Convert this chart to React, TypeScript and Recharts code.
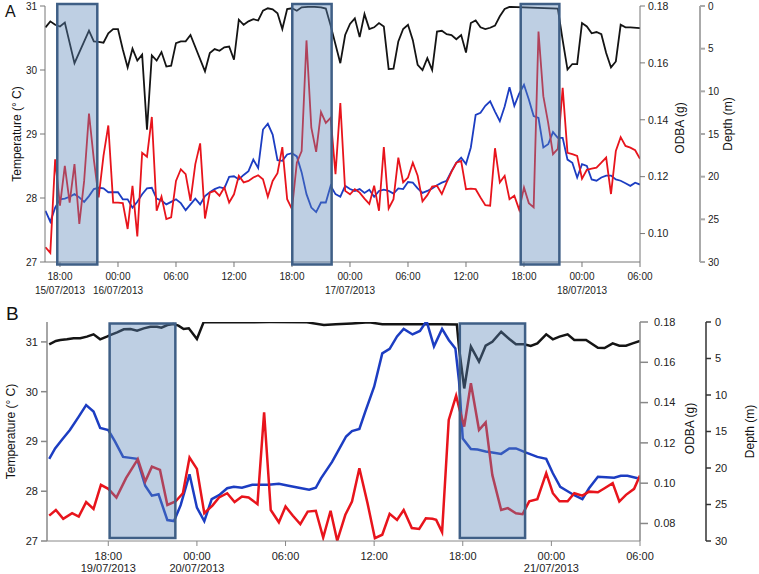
import React from "react";
import { ComposedChart, Line, XAxis, YAxis, ReferenceArea } from "recharts";

// ---------- Panel A (hours from 00:00 15/07/2013) ----------
const depthA: [number, number][] = [
  [16.5,2.5],[17,1.8],[17.5,2.2],[18,2.4],[18.5,1.95],[19.5,6.7],[21,2.9],[21.5,4.15],[22,4.2],[22.5,4.3],
  [23,3.2],[23.5,2.7],[24,2.7],[24.5,5.1],[25,7.2],[25.5,5.0],[26,6.4],[26.5,5.7],[27,14.5],[27.5,5.8],
  [28,6.4],[28.5,5.4],[29,7.1],[29.5,7.0],[30,4.35],[30.5,4.15],[31,4.15],[31.5,3.4],[33,7.65],[33.5,5.5],
  [34,5.05],[34.5,5.25],[35,4.85],[35.5,4.75],[36,6.3],[36.5,1.6],[37,2.2],[37.5,1.8],[38,1.55],[38.5,1.7],
  [39,0.55],[39.5,0.27],[40,0.4],[40.5,0.85],[41,2.7],[41.5,0.35],[42,0.27],[42.5,0.55],[43,0.15],[44,0.08],
  [45,0.15],[45.5,0.3],[46,2.3],[47,6.7],[47.5,3.4],[48,2.1],[48.5,1.45],[49,3.65],[49.5,0.95],[50,2.7],
  [50.5,2.5],[51,2.0],[51.5,2.4],[52,7.4],[52.5,7.35],[53,4.15],[53.5,2.7],[54,2.2],[54.5,4.0],[55,6.9],
  [55.5,7.5],[56,6.1],[56.5,7.5],[57,3.0],[57.5,2.9],[58,3.3],[58.5,3.4],[59,3.9],[59.5,3.4],[60,5.45],
  [60.5,2.0],[61,1.7],[61.5,2.5],[62,2.7],[62.5,2.55],[63,2.3],[63.5,1.2],[64,0.35],[64.5,0.1],[69.5,0.3],
  [70,4.0],[70.5,7.45],[71,6.8],[71.5,6.8],[72,2.0],[72.5,2.4],[73,3.2],[73.5,3.05],[74,3.3],[74.5,5.5],
  [75,7.2],[75.5,6.5],[76,2.2],[76.5,2.5],[77,2.5],[78,2.6],
];
const tempA: [number, number][] = [
  [16.5,27.8],[17,27.63],[17.5,27.85],[18,27.98],[18.5,27.99],[19,28.02],[19.5,28.06],[20,28.01],[20.5,27.94],[21,28.03],
  [21.5,28.14],[22,28.16],[22.5,28.15],[23,28.09],[23.5,28.09],[24,28.09],[24.5,27.98],[25,27.98],[25.5,27.85],[26,27.94],
  [26.5,28.06],[27,28.15],[27.5,28.16],[28,27.99],[28.5,27.96],[29,27.9],[29.5,27.94],[30,27.98],[30.5,27.92],[31,27.81],
  [31.5,27.9],[32,27.99],[32.5,27.9],[33,28.03],[33.5,28.09],[34,28.14],[34.5,28.17],[35,28.15],[35.5,28.33],[36,28.34],
  [36.5,28.29],[37,28.36],[37.5,28.42],[38,28.6],[38.5,28.47],[39,29.07],[39.5,29.16],[40,28.99],[40.5,28.59],[41,28.58],
  [41.5,28.68],[42,28.7],[42.5,28.65],[43,28.4],[43.5,28.06],[44,27.85],[44.5,27.78],[45,27.93],[45.5,27.93],[46,28.19],
  [46.5,28.06],[47,28.02],[47.5,28.19],[48,28.14],[48.5,28.11],[49,28.14],[49.5,28.08],[50,28.13],[50.5,28.02],[51,28.11],
  [51.5,28.13],[52,28.11],[52.5,28.07],[53,28.15],[53.5,28.14],[54,28.25],[54.5,28.24],[55,28.15],[55.5,28.08],[56,28.11],
  [56.5,28.15],[57,28.2],[57.5,28.24],[58,28.27],[58.5,28.42],[59,28.55],[59.5,28.63],[60,28.53],[60.5,28.79],[61,29.3],
  [61.5,29.33],[62,29.44],[62.5,29.51],[63,29.35],[63.5,29.2],[64,29.43],[64.5,29.73],[65,29.44],[65.5,29.63],[66,29.77],
  [66.5,29.54],[67,29.28],[67.5,29.25],[68,28.79],[68.5,28.84],[69,29.03],[69.5,28.94],[70,28.94],[70.5,28.6],[71,28.55],
  [71.5,28.32],[72,28.53],[72.5,28.5],[73,28.29],[73.5,28.27],[74,28.32],[74.5,28.35],[75,28.35],[75.5,28.29],[76,28.27],
  [76.5,28.23],[77,28.19],[77.5,28.24],[78,28.21],
];
const odbaA: [number, number][] = [
  [16.5,0.0952],[17,0.0932],[17.5,0.1261],[18,0.1098],[18.5,0.1238],[19,0.1109],[19.5,0.1244],[20,0.1034],[20.5,0.1185],[21,0.1422],
  [21.5,0.1261],[22,0.1127],[22.5,0.1273],[23,0.138],[23.5,0.1109],[24,0.1109],[24.5,0.1107],[25,0.1016],[25.5,0.1168],[26,0.099],
  [26.5,0.1284],[27,0.127],[27.5,0.141],[28,0.108],[28.5,0.113],[29,0.1051],[29.5,0.1057],[30,0.1185],[30.5,0.1226],[31,0.1209],
  [31.5,0.1115],[32,0.1244],[32.5,0.1317],[33,0.1053],[33.5,0.1144],[34,0.115],[34.5,0.1133],[35,0.1162],[35.5,0.1109],[36,0.1138],
  [36.5,0.1203],[37,0.118],[37.5,0.1185],[38,0.1197],[38.5,0.1205],[39,0.1191],[39.5,0.1129],[40,0.1185],[40.5,0.1212],[41,0.1304],
  [41.5,0.1121],[42,0.1086],[42.5,0.1249],[43,0.129],[43.5,0.1679],[44,0.1372],[44.5,0.1287],[45,0.1427],[45.5,0.1389],[46,0.1407],
  [46.5,0.1209],[47,0.1459],[47.5,0.115],[48,0.1138],[48.5,0.1156],[49,0.1144],[49.5,0.1123],[50,0.1104],[50.5,0.1168],[51,0.108],
  [51.5,0.1304],[52,0.1088],[52.5,0.1121],[53,0.1267],[53.5,0.118],[54,0.1197],[54.5,0.1249],[55,0.1203],[55.5,0.1113],[56,0.1135],
  [56.5,0.1165],[57,0.1168],[57.5,0.1139],[58,0.118],[58.5,0.1217],[59,0.1249],[59.5,0.1255],[60,0.1156],[60.5,0.1158],[61,0.1156],
  [61.5,0.1127],[62,0.11],[62.5,0.1098],[63,0.13],[63.5,0.118],[64,0.1203],[64.5,0.1121],[65,0.1133],[65.5,0.1084],[66,0.1162],
  [66.5,0.1107],[67,0.1092],[67.5,0.171],[68,0.1483],[68.5,0.1389],[69,0.1279],[69.5,0.1298],[70,0.1512],[70.5,0.1284],[71,0.1279],
  [71.5,0.1273],[72,0.1193],[72.5,0.1224],[73,0.1228],[73.5,0.1232],[74,0.1249],[74.5,0.1267],[75,0.1139],[75.5,0.129],[76,0.1339],
  [76.5,0.1308],[77,0.1302],[77.5,0.1293],[78,0.1263],
];
const shadeA: [number, number][] = [[17.72, 21.86], [42.03, 46.1], [65.66, 69.66]];
const ticksA = [18, 24, 30, 36, 42, 48, 54, 60, 66, 72, 78];
const tickTimesA = ["18:00", "00:00", "06:00", "12:00", "18:00", "00:00", "06:00", "12:00", "18:00", "00:00", "06:00"];
const tickDatesA = ["15/07/2013", "16/07/2013", "", "", "", "17/07/2013", "", "", "", "18/07/2013", ""];

// ---------- Panel B (hours from 00:00 19/07/2013) ----------
const depthB: [number, number][] = [
  [14.0,3.06],[14.45,2.6],[14.75,2.47],[15.2,2.37],[15.65,2.23],[16.1,2.23],[16.55,2.0],[17.0,1.69],[17.45,2.37],[17.9,2.0],
  [18.25,1.69],[18.6,1.41],[19.05,1.0],[19.5,0.96],[19.95,1.19],[20.4,0.87],[20.85,0.64],[21.3,0.64],[21.6,0.78],[22.0,0.41],
  [22.4,0.27],[22.75,0.5],[23.1,0.96],[23.45,0.87],[24.0,2.33],[24.45,0.05],[24.9,0.0],[26.6,0.05],[28.9,0.0],[31.45,0.05],
  [32.6,0.4],[33.4,0.3],[34.5,0.2],[35.65,0.05],[36.55,0.3],[37.9,0.3],[39.25,0.3],[40.5,0.3],[41.6,0.35],[41.75,3.6],
  [42.1,9.1],[42.55,3.38],[43.1,5.44],[43.55,3.25],[44.0,2.7],[44.6,1.33],[45.15,2.33],[45.6,3.06],[46.15,3.06],[46.6,3.29],
  [47.05,2.92],[47.65,1.69],[48.1,2.37],[48.55,2.0],[49.1,1.69],[49.55,2.47],[50.35,2.47],[51.15,3.52],[51.6,3.56],[52.15,2.92],
  [52.6,3.25],[53.05,3.25],[53.5,2.92],[54.0,2.6],
];
const tempB: [number, number][] = [
  [14.0,28.65],[14.4,28.86],[14.85,29.03],[15.4,29.23],[16.0,29.5],[16.5,29.73],[17.0,29.6],[17.45,29.27],[18.0,29.23],[18.45,29.0],
  [19.0,28.69],[19.5,28.67],[19.95,28.65],[20.5,28.11],[20.95,27.91],[21.4,27.94],[22.0,27.42],[22.45,27.4],[22.9,27.72],[23.5,28.34],
  [24.0,27.67],[24.5,27.4],[25.0,27.84],[25.5,27.92],[26.05,28.06],[26.5,28.09],[27.05,28.07],[27.75,28.13],[28.85,28.13],[29.55,28.15],
  [30.2,28.11],[30.9,28.07],[31.6,28.03],[32.05,28.07],[32.4,28.26],[33.15,28.59],[33.6,28.83],[34.1,29.1],[34.5,29.21],[35.0,29.25],
  [35.4,29.6],[36.0,30.1],[36.55,30.77],[37.05,30.86],[37.55,31.11],[38.0,31.26],[38.6,31.15],[39.1,31.22],[39.55,31.42],[40.05,30.91],
  [40.6,31.26],[41.05,31.04],[41.5,30.87],[41.75,30.2],[42.0,29.06],[42.55,28.85],[43.0,28.84],[43.55,28.8],[44.0,28.78],[44.6,28.75],
  [45.15,28.86],[45.6,28.86],[46.25,28.78],[47.05,28.69],[47.65,28.65],[48.1,28.36],[48.6,28.09],[49.1,28.0],[49.55,27.92],[50.1,27.84],
  [50.55,28.06],[51.15,28.29],[51.7,28.28],[52.25,28.27],[52.7,28.31],[53.15,28.31],[53.85,28.26],
];
const odbaB: [number, number][] = [
  [14.0,0.0839],[14.45,0.0867],[14.95,0.0823],[15.55,0.0851],[16.0,0.0834],[16.5,0.0906],[17.0,0.0872],[17.5,0.0992],[18.0,0.0972],[18.55,0.0929],
  [19.2,0.1025],[20.0,0.1119],[20.5,0.1008],[20.95,0.1082],[21.5,0.1066],[22.0,0.0892],[22.55,0.0909],[23.05,0.095],[23.5,0.1127],[24.0,0.1071],
  [24.5,0.0851],[25.05,0.0889],[25.5,0.0929],[26.05,0.095],[26.55,0.0906],[27.05,0.0934],[27.5,0.0929],[28.1,0.0896],[28.55,0.1352],[29.0,0.0867],
  [29.55,0.0806],[30.0,0.0884],[30.5,0.0838],[31.0,0.0797],[31.5,0.0859],[32.05,0.0863],[32.55,0.073],[33.05,0.0863],[33.5,0.0714],[34.05,0.0843],
  [34.5,0.0909],[35.0,0.1074],[35.55,0.0901],[36.05,0.0727],[36.55,0.0744],[37.05,0.0848],[37.55,0.0818],[38.0,0.0867],[38.55,0.0777],[39.05,0.0773],
  [39.5,0.0826],[39.95,0.0823],[40.2,0.0818],[40.6,0.0757],[41.05,0.1314],[41.55,0.1434],[41.75,0.1375],[42.1,0.1281],[42.55,0.1496],[43.1,0.1264],
  [43.55,0.1302],[44.0,0.1041],[44.6,0.0867],[45.05,0.0876],[45.6,0.0851],[46.05,0.0846],[46.5,0.091],[47.05,0.0921],[47.65,0.105],[48.1,0.095],
  [48.55,0.091],[49.1,0.091],[49.55,0.095],[50.1,0.0938],[50.55,0.0958],[51.15,0.0955],[51.6,0.0975],[52.15,0.1],[52.6,0.0909],[53.05,0.0942],
  [53.6,0.0972],[54.0,0.1038],
];
const shadeB: [number, number][] = [[18.09, 22.54], [41.8, 46.22]];
const ticksB = [18, 24, 30, 36, 42, 48, 54];
const tickTimesB = ["18:00", "00:00", "06:00", "12:00", "18:00", "00:00", "06:00"];
const tickDatesB = ["19/07/2013", "20/07/2013", "", "", "", "21/07/2013", ""];

const tempTicks = [27, 28, 29, 30, 31];
const odbaTicksA = [0.1, 0.12, 0.14, 0.16, 0.18];
const odbaTicksB = [0.08, 0.1, 0.12, 0.14, 0.16, 0.18];
const depthTicks = [0, 5, 10, 15, 20, 25, 30];

const toRows = (arr: [number, number][]) => arr.map(([t, v]) => ({ t, v }));

const TICK_FONT = "'Liberation Sans', Arial, sans-serif";
const LABEL_FONT = "'Liberation Sans', Arial, sans-serif";

const BLACK = "#141414";
const BLUE = "#1c3dc2";
const RED = "#e8141c";

// axis ids: the right axes are stacked outward in id order
const ODBA_ID = "r1_odba";
const DEPTH_ID = "r2_depth";

function makeXTick(ticks: number[], times: string[], dates: string[], fs: number, gap1: number, gap2: number) {
  return (props: any) => {
    const { x, y, payload } = props;
    const i = ticks.indexOf(payload.value);
    if (i < 0) return null;
    return (
      <g>
        <text x={x} y={y + gap1} textAnchor="middle" fontSize={fs} fontFamily={TICK_FONT} fill="#222">
          <tspan x={x}>{times[i]}</tspan>
          {dates[i] ? <tspan x={x} dy={gap2 - gap1}>{dates[i]}</tspan> : null}
        </text>
      </g>
    );
  };
}

function PanelA() {
  return (
    <ComposedChart width={759} height={300} margin={{ top: 6, right: 0, bottom: 0, left: 0 }}>
      <XAxis
        xAxisId="x" dataKey="t" type="number" domain={[16.45, 78]} allowDataOverflow ticks={ticksA} interval={0}
        height={38} stroke="#777" tickSize={5} tickMargin={2}
        tick={makeXTick(ticksA, tickTimesA, tickDatesA, 10, 11, 25)}
      />
      <YAxis
        yAxisId="temp" orientation="left" width={45} domain={[27, 31]} ticks={tempTicks} allowDataOverflow
        stroke="#777" tickSize={5} tickMargin={3} tick={{ fontSize: 10, fill: "#222", fontFamily: TICK_FONT }}
        label={{ value: "Temperature (°  C)", angle: -90, position: "center", dx: -6, fontSize: 12, fill: "#111", fontFamily: LABEL_FONT }}
      />
      <YAxis
        yAxisId={ODBA_ID} orientation="right" width={60} domain={[0.09, 0.18]} ticks={odbaTicksA} allowDataOverflow
        stroke="#777" tickSize={5} tickMargin={3} tickFormatter={(v: number) => v.toFixed(2)}
        tick={{ fontSize: 10.5, fill: "#222", fontFamily: TICK_FONT }}
        label={{ value: "ODBA (g)", angle: -90, position: "center", dx: 10, dy: -6, fontSize: 12, fill: "#111", fontFamily: LABEL_FONT }}
      />
      <YAxis
        yAxisId={DEPTH_ID} orientation="right" width={59} domain={[0, 30]} reversed ticks={depthTicks} allowDataOverflow
        stroke="#aaa" strokeWidth={2} tickSize={5} tickMargin={3}
        tick={{ fontSize: 10, fill: "#222", fontFamily: TICK_FONT }}
        label={{ value: "Depth (m)", angle: -90, position: "center", dx: -2, dy: -10, fontSize: 12, fill: "#111", fontFamily: LABEL_FONT }}
      />
      <Line xAxisId="x" yAxisId={DEPTH_ID} data={toRows(depthA)} dataKey="v" stroke={BLACK} strokeWidth={1.8} dot={false} isAnimationActive={false} />
      <Line xAxisId="x" yAxisId="temp" data={toRows(tempA)} dataKey="v" stroke={BLUE} strokeWidth={1.8} dot={false} isAnimationActive={false} />
      <Line xAxisId="x" yAxisId={ODBA_ID} data={toRows(odbaA)} dataKey="v" stroke={RED} strokeWidth={1.8} dot={false} isAnimationActive={false} />
      {shadeA.map(([a, b], i) => (
        <ReferenceArea
          key={i} xAxisId="x" yAxisId="temp" x1={a} x2={b} y1={26.96} y2={31.03} ifOverflow="visible"
          fill="#5d87b9" fillOpacity={0.4} stroke="#3f5f86" strokeWidth={2.5} strokeOpacity={1}
          {...({ zIndex: 800 } as any)}
        />
      ))}
    </ComposedChart>
  );
}

function PanelB() {
  return (
    <ComposedChart width={759} height={276} margin={{ top: 24, right: 0, bottom: 0, left: 0 }}>
      <XAxis
        xAxisId="x" dataKey="t" type="number" domain={[13.85, 54]} allowDataOverflow ticks={ticksB} interval={0}
        height={33} stroke="#888" tickSize={5} tickMargin={2}
        tick={makeXTick(ticksB, tickTimesB, tickDatesB, 11, 12, 23.5)}
      />
      <YAxis
        yAxisId="temp" orientation="left" width={47} domain={[27, 31.4]} ticks={tempTicks} allowDataOverflow
        stroke="#888" strokeWidth={1.5} tickSize={6} tickMargin={3} tick={{ fontSize: 11, fill: "#222", fontFamily: TICK_FONT }}
        label={{ value: "Temperature (°  C)", angle: -90, position: "center", dx: -13, fontSize: 12, fill: "#111", fontFamily: LABEL_FONT }}
      />
      <YAxis
        yAxisId={ODBA_ID} orientation="right" width={66} domain={[0.0713, 0.18]} ticks={odbaTicksB} allowDataOverflow
        stroke="#888" strokeWidth={1.5} tickSize={8} tickMargin={6} tickFormatter={(v: number) => v.toFixed(2)}
        tick={{ fontSize: 11, fill: "#222", fontFamily: TICK_FONT }}
        label={{ value: "ODBA (g)", angle: -90, position: "center", dx: 17, dy: -3, fontSize: 12, fill: "#111", fontFamily: LABEL_FONT }}
      />
      <YAxis
        yAxisId={DEPTH_ID} orientation="right" width={53} domain={[0, 30]} reversed ticks={depthTicks} allowDataOverflow
        stroke="#333" strokeWidth={1.5} tickSize={5} tickMargin={4}
        tick={{ fontSize: 11, fill: "#222", fontFamily: TICK_FONT }}
        label={{ value: "Depth (m)", angle: -90, position: "center", dx: 17, fontSize: 12, fill: "#111", fontFamily: LABEL_FONT }}
      />
      <Line xAxisId="x" yAxisId={DEPTH_ID} data={toRows(depthB)} dataKey="v" stroke={BLACK} strokeWidth={2.5} dot={false} isAnimationActive={false} />
      <Line xAxisId="x" yAxisId="temp" data={toRows(tempB)} dataKey="v" stroke={BLUE} strokeWidth={2.5} dot={false} isAnimationActive={false} />
      <Line xAxisId="x" yAxisId={ODBA_ID} data={toRows(odbaB)} dataKey="v" stroke={RED} strokeWidth={2.5} dot={false} isAnimationActive={false} />
      {shadeB.map(([a, b], i) => (
        <ReferenceArea
          key={i} xAxisId="x" yAxisId="temp" x1={a} x2={b} y1={27.06} y2={31.37} ifOverflow="visible"
          fill="#5d87b9" fillOpacity={0.4} stroke="#3f5f86" strokeWidth={2.5} strokeOpacity={1}
          {...({ zIndex: 800 } as any)}
        />
      ))}
    </ComposedChart>
  );
}

export default function App() {
  return (
    <div style={{ position: "absolute", left: 0, top: 0, width: 759, height: 574, background: "#fff" }}>
      <div style={{ position: "absolute", left: 0, top: 0 }}>
        <PanelA />
      </div>
      <div style={{ position: "absolute", left: 0, top: 298 }}>
        <PanelB />
      </div>
      <div style={{ position: "absolute", left: 5, top: 2, fontSize: 16, fontFamily: LABEL_FONT, color: "#111", lineHeight: "20px" }}>A</div>
      <div style={{ position: "absolute", left: 6, top: 303, fontSize: 19, fontFamily: LABEL_FONT, color: "#111", lineHeight: "22px" }}>B</div>
    </div>
  );
}
